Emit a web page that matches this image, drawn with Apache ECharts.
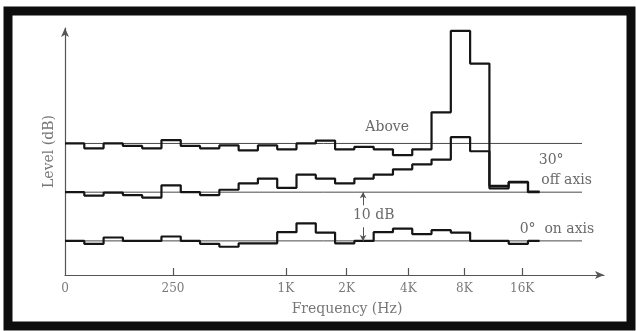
<!DOCTYPE html>
<html>
<head>
<meta charset="utf-8">
<script src="https://cdn.jsdelivr.net/npm/echarts@6/dist/echarts.min.js"></script>
<style>
html,body{margin:0;padding:0;background:#fff;}
#chart{width:636px;height:331px;}
</style>
</head>
<body>
<div id="chart"></div>
<script>
// third-octave band index (left edge of each band)
const bandStart = [0,1,2,3,4,5,6,7,8,9,10,11,12,13,14,15,16,17,18,19,20,21,22,23,24];
const traceEnd = 24.6;
// levels in dB (reference lines at 27, 17 and 7 dB)
const above   = [27,26.0,27,26.5,26.0,27.7,26.5,26.0,26.6,25.6,26.6,25.8,27,27.6,25.8,26.3,25.8,24.6,25.8,33.4,50.1,43.4,18.3,19.1,17.1];
const offAxis = [17,16.3,16.9,16.4,15.9,18.4,17.0,16.4,17.5,18.8,19.8,17.9,20.6,19.8,18.8,19.8,20.6,21.7,22.7,23.7,28.3,25.4,17.8,19.0,17.0];
const onAxis  = [7,6.4,7.7,7,7,7.9,7,6.4,5.8,6.5,6.5,8.8,10.6,8.7,6.5,7.0,8.8,9.5,8.4,9.2,8.7,7.0,7.0,6.4,7.0];
const refLevels = [27,17,7];
const refEnd = 26.8;
const tickPos = [0,5.6,11.45,14.6,17.8,20.7,23.7];
const tickLabels = ['0','250','1K','2K','4K','8K','16K'];
const dbMarkerX = 15.45;
const dbArrows = [[14.3,17],[9.8,7]];
const annotations = [
  {text:'Above', x:16.7, y:30.3},
  {text:'30°', x:25.2, y:23.6},
  {text:'off axis', x:26.0, y:19.5},
  {text:'0°  on axis', x:25.5, y:9.4},
  {text:'10 dB', x:16.0, y:12.3}
];

function stepData(vals){
  const d = bandStart.map((b,i)=>[b, vals[i]]);
  d.push([traceEnd, vals[vals.length-1]]);
  return d;
}

const font = 'DejaVu Serif';
const chart = echarts.init(document.getElementById('chart'), null, {renderer:'canvas'});
const traceStyle = {color:'#151515', width:2.2};
const series = [];
refLevels.forEach(v=>{
  series.push({type:'line', data:[[0,v],[refEnd,v]], symbol:'none', silent:true,
    lineStyle:{color:'#4a4a4a', width:1}, z:1});
});
[above, offAxis, onAxis].forEach(arr=>{
  series.push({type:'line', step:'end', data:stepData(arr), symbol:'none',
    lineStyle:traceStyle, z:3});
});
series.push({type:'line', data:[], symbol:'none',
  markLine:{silent:true, symbol:['none','arrow'], symbolSize:[5,6],
    lineStyle:{color:'#555', width:1, type:'solid'}, label:{show:false},
    data: dbArrows.map(a=>[{coord:[dbMarkerX,a[0]]},{coord:[dbMarkerX,a[1]]}])}
});

chart.setOption({
  animation:false,
  backgroundColor:'#fff',
  grid:{left:65, right:32, top:28, bottom:56},
  xAxis:{type:'value', min:0, max:27.94,
    axisLine:{show:true, lineStyle:{color:'#555', width:1.2}, symbol:['none','arrow'], symbolSize:[6,9]},
    splitLine:{show:false},
    axisTick:{show:true, inside:true, length:7, customValues:tickPos.slice(1), lineStyle:{color:'#555', width:1.2}},
    axisLabel:{customValues:tickPos, formatter:(v)=>{const i=tickPos.indexOf(v);return i>=0?tickLabels[i]:'';},
      color:'#7a7a7a', fontFamily:font, fontSize:12, margin:8},
    name:'Frequency (Hz)', nameLocation:'middle', nameGap:27,
    nameTextStyle:{color:'#777', fontFamily:font, fontSize:14, padding:[0,0,0,25]}
  },
  yAxis:{type:'value', min:0, max:50.7,
    axisLine:{show:true, lineStyle:{color:'#555', width:1.2}, symbol:['none','arrow'], symbolSize:[6,9]},
    splitLine:{show:false}, axisTick:{show:false}, axisLabel:{show:false},
    name:'Level (dB)', nameLocation:'middle', nameGap:9,
    nameTextStyle:{color:'#777', fontFamily:font, fontSize:14}
  },
  series: series
});

const g = [{type:'rect', shape:{x:8, y:11, width:623, height:315},
  style:{fill:'none', stroke:'#0d0d0d', lineWidth:9}, z:100}];
annotations.forEach(a=>{
  const p = chart.convertToPixel({gridIndex:0}, [a.x, a.y]);
  g.push({type:'text', x:p[0], y:p[1], style:{text:a.text, fill:'#6a6a6a',
    font:'14px "DejaVu Serif"', textAlign:'center', textVerticalAlign:'middle'}, z:50});
});
chart.setOption({graphic:g});
</script>
</body>
</html>
